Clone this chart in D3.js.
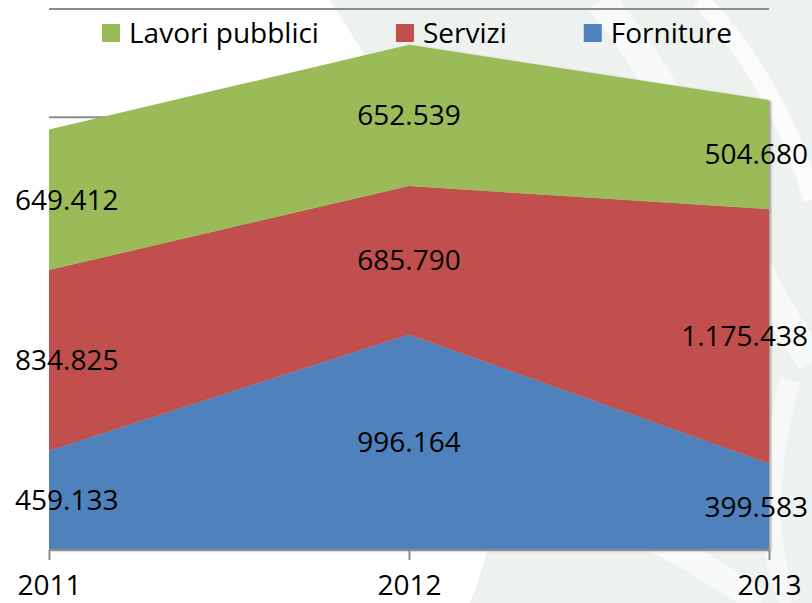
<!DOCTYPE html>
<html>
<head>
<meta charset="utf-8">
<script src="https://cdn.jsdelivr.net/npm/d3@7"></script>
<style>
  body { margin: 0; background: #fff; }
  svg { display: block; font-family: "Open Sans", "Noto Sans", sans-serif; }
</style>
</head>
<body>
<div id="chart"></div>
<script>
const years = ['2011', '2012', '2013'];
const seriesNames = ['Forniture', 'Servizi', 'Lavori pubblici'];
const forniture = [459133, 996164, 399583];
const servizi = [834825, 685790, 1175438];
const lavori = [649412, 652539, 504680];
const legendOrder = ['Lavori pubblici', 'Servizi', 'Forniture'];
const gridTicks = [0, 500000, 1000000, 1500000, 2000000, 2500000];

const w = 812, h = 603;
const colors = { 'Forniture': '#4f81bd', 'Servizi': '#c0504d', 'Lavori pubblici': '#9bbb59' };

const rows = years.map((y, i) => ({
  year: y,
  'Forniture': forniture[i],
  'Servizi': servizi[i],
  'Lavori pubblici': lavori[i]
}));

const stack = d3.stack().keys(seriesNames);
const layers = stack(rows);

const xScale = d3.scalePoint().domain(years).range([49, 769]);
const yScale = d3.scaleLinear().domain([0, 2500000]).range([550, 9]);

const svg = d3.select('#chart').append('svg')
  .attr('width', w)
  .attr('height', h);

// background watermark
svg.append('rect').attr('width', w).attr('height', h).attr('fill', '#edf2ef');
svg.append('path')
  .attr('d', 'M0,0 L330,0 C420,140 560,380 470,603 L0,603 Z')
  .attr('fill', '#ffffff');
const swoosh = svg.append('g').attr('fill', 'none').attr('stroke', '#ffffff');
swoosh.append('path').attr('d', 'M600,0 C700,120 760,300 812,360').attr('stroke-width', 30).attr('opacity', 0.6);
swoosh.append('path').attr('d', 'M700,0 C760,60 800,150 812,200').attr('stroke-width', 18).attr('opacity', 0.7);
swoosh.append('path').attr('d', 'M520,470 C620,520 700,560 760,603').attr('stroke-width', 26).attr('opacity', 0.6);
swoosh.append('path').attr('d', 'M790,380 C770,460 760,540 790,603').attr('stroke-width', 20).attr('opacity', 0.5);

const defs = svg.append('defs');
const f = defs.append('filter').attr('id', 'shadow').attr('x', '-5%').attr('y', '-5%').attr('width', '110%').attr('height', '110%');
f.append('feDropShadow').attr('dx', 2).attr('dy', 1).attr('stdDeviation', 1.2).attr('flood-color', '#000').attr('flood-opacity', 0.35);

// gridlines
svg.append('g').selectAll('line')
  .data(gridTicks.slice(1))
  .enter()
  .append('line')
  .attr('x1', 49).attr('x2', 769)
  .attr('y1', d => yScale(d)).attr('y2', d => yScale(d))
  .attr('stroke', '#8c8c8c')
  .attr('stroke-width', 2);

// areas
const area = d3.area()
  .x(d => xScale(d.data.year))
  .y0(d => yScale(d[0]))
  .y1(d => yScale(d[1]));

svg.append('g').attr('filter', 'url(#shadow)')
  .selectAll('path')
  .data(layers)
  .enter()
  .append('path')
  .attr('d', area)
  .attr('fill', d => colors[d.key]);

// x axis
const xAxis = d3.axisBottom(xScale).tickSize(10).tickSizeOuter(0).tickPadding(15);
const gx = svg.append('g')
  .attr('transform', 'translate(0,' + yScale(0) + ')')
  .call(xAxis);
gx.select('.domain').attr('stroke', '#8c8c8c').attr('stroke-width', 2)
  .attr('d', 'M49,0H769');
gx.selectAll('.tick line').attr('stroke', '#8c8c8c').attr('stroke-width', 2);
gx.selectAll('.tick text')
  .attr('font-size', 28)
  .attr('fill', '#000')
  .attr('font-family', '"Open Sans", sans-serif');

// data labels
const fmt = v => d3.format(',')(v).replace(/,/g, '.');
const labels = svg.append('g');
layers.forEach(layer => {
  layer.forEach(d => {
    const t = labels.append('text')
      .attr('x', xScale(d.data.year))
      .attr('y', yScale((d[0] + d[1]) / 2))
      .attr('dy', '0.35em')
      .attr('text-anchor', 'middle')
      .attr('font-size', 28)
      .attr('fill', '#000')
      .text(fmt(d.data[layer.key]));
    const len = t.node().getComputedTextLength();
    let cx = xScale(d.data.year);
    if (cx - len / 2 < 15) cx = 15 + len / 2;
    if (cx + len / 2 > 808) cx = 808 - len / 2;
    t.attr('x', cx);
  });
});

// legend
const legend = svg.append('g');
let lx = 0;
legendOrder.forEach(name => {
  const g = legend.append('g').attr('transform', 'translate(' + lx + ',0)');
  g.append('rect').attr('x', 0).attr('y', 24).attr('width', 18).attr('height', 18)
    .attr('fill', colors[name]);
  const t = g.append('text').attr('x', 27).attr('y', 43)
    .attr('font-size', 28).attr('fill', '#000').text(name);
  const tw = t.node().getComputedTextLength();
  lx += 27 + tw + 77;
});
const totalW = lx - 77;
legend.attr('transform', 'translate(' + (417 - totalW / 2) + ',0)');
</script>
</body>
</html>
